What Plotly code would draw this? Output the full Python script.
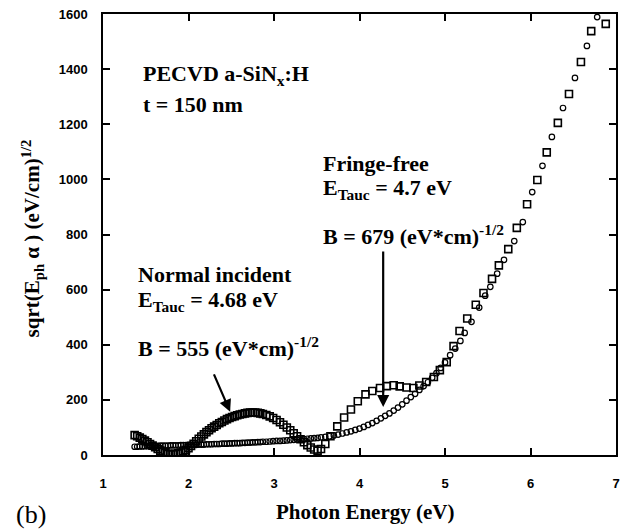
import plotly.graph_objects as go

# Normal incident (open squares)
ni_x = [1.37, 1.40, 1.43, 1.46, 1.49, 1.52, 1.55, 1.58, 1.61, 1.64, 1.67, 1.70, 1.73, 1.76, 1.79, 1.82,
        1.85, 1.88, 1.91, 1.94, 1.97, 2.00, 2.03, 2.06, 2.09, 2.12, 2.15, 2.18, 2.21, 2.24, 2.27, 2.30,
        2.33, 2.36, 2.39, 2.42, 2.45, 2.48, 2.51, 2.54, 2.57, 2.60, 2.63, 2.66, 2.69, 2.72, 2.75, 2.78,
        2.81, 2.84, 2.87, 2.91, 2.95, 2.99, 3.03, 3.07, 3.11, 3.15, 3.19, 3.23, 3.27, 3.31, 3.35, 3.39,
        3.43, 3.47, 3.51, 3.55, 3.60, 3.66, 3.74, 3.82, 3.90, 3.98, 4.07, 4.15, 4.24, 4.32, 4.40, 4.47,
        4.55, 4.63, 4.70, 4.78, 4.87, 4.94, 5.02, 5.10, 5.17, 5.26, 5.36, 5.45, 5.55, 5.63, 5.74, 5.84,
        5.96, 6.08, 6.19, 6.32, 6.45, 6.59, 6.71, 6.88]
ni_y = [72, 68, 63, 58, 52, 46, 40, 34, 28, 22, 16, 11, 7, 4, 3, 3,
        4, 6, 9, 13, 18, 25, 33, 41, 50, 59, 67, 75, 83, 90, 97, 103,
        109, 115, 120, 125, 130, 134, 138, 141, 144, 147, 149, 151, 153, 154, 154, 154,
        153, 151, 149, 145, 140, 134, 127, 119, 110, 100, 90, 79, 68, 57, 46, 36,
        27, 20, 16, 22, 40, 68, 104, 136, 165, 195, 220, 232, 243, 250, 253, 249,
        245, 243, 252, 265, 283, 308, 337, 395, 450, 495, 545, 588, 639, 688, 747, 824,
        910, 998, 1098, 1205, 1310, 1426, 1538, 1564]

# Fringe-free (open circles)
ff_x = [1.37, 1.40, 1.43, 1.46, 1.49, 1.52, 1.55, 1.58, 1.61, 1.64, 1.67, 1.70, 1.73, 1.76, 1.79, 1.82,
        1.85, 1.88, 1.91, 1.94, 1.97, 2.00, 2.03, 2.06, 2.09, 2.12, 2.15, 2.18, 2.21, 2.24, 2.27, 2.30,
        2.33, 2.36, 2.39, 2.42, 2.45, 2.48, 2.51, 2.54, 2.57, 2.60, 2.63, 2.66, 2.69, 2.72, 2.75, 2.78,
        2.81, 2.84, 2.87, 2.91, 2.95, 2.99, 3.03, 3.07, 3.11, 3.15, 3.19, 3.23, 3.27, 3.31, 3.35, 3.39,
        3.43, 3.47, 3.51, 3.55, 3.60, 3.65, 3.70, 3.75, 3.80, 3.85, 3.90, 3.95, 4.00, 4.05, 4.10, 4.15,
        4.20, 4.25, 4.30, 4.35, 4.40, 4.45, 4.50, 4.55, 4.60, 4.65, 4.70, 4.75, 4.80, 4.85, 4.90, 4.95,
        5.00, 5.06, 5.12, 5.18, 5.23, 5.31, 5.40, 5.47, 5.53, 5.61, 5.69, 5.81, 5.91, 6.02, 6.14, 6.25,
        6.38, 6.52, 6.66, 6.78]
ff_y = [30, 30, 31, 31, 32, 32, 32, 33, 33, 33, 34, 34, 34, 34, 35, 35,
        35, 35, 36, 36, 36, 36, 37, 37, 37, 38, 38, 38, 39, 39, 39, 40,
        40, 40, 41, 41, 41, 42, 42, 43, 43, 43, 44, 44, 45, 45, 46, 46,
        47, 47, 48, 48, 49, 50, 51, 51, 52, 53, 54, 55, 56, 57, 58, 59,
        60, 61, 62, 64, 66, 68, 71, 74, 78, 82, 86, 91, 96, 102, 109, 116,
        124, 133, 142, 151, 161, 172, 184, 197, 210, 222, 236, 250, 264, 280, 297, 316,
        336, 362, 386, 414, 443, 483, 535, 578, 610, 658, 708, 776, 845, 954, 1049, 1154,
        1259, 1368, 1484, 1589]

x_ticks = [1, 2, 3, 4, 5, 6, 7]
y_ticks = [0, 200, 400, 600, 800, 1000, 1200, 1400, 1600]

SERIF = "Liberation Serif"
SANS = "Liberation Sans"

fig = go.Figure()
fig.add_trace(go.Scatter(x=ni_x, y=ni_y, mode="markers", name="Normal incident",
                         marker=dict(symbol="square-open", size=7, color="black",
                                     line=dict(width=1.6, color="black"))))
fig.add_trace(go.Scatter(x=ff_x, y=ff_y, mode="markers", name="Fringe-free",
                         marker=dict(symbol="circle-open", size=5.5, color="black",
                                     line=dict(width=1.2, color="black"))))

axis_common = dict(showgrid=False, zeroline=False, showline=True, linecolor="black", linewidth=1.5,
                   mirror="ticks", ticks="inside", ticklen=7, tickwidth=1.5, tickcolor="black",
                   tickfont=dict(family=SANS, size=13, color="black", weight="bold"))

fig.update_xaxes(range=[1, 7], tickvals=x_ticks, ticklabelstandoff=16, **axis_common)
fig.update_yaxes(range=[0, 1600], tickvals=y_ticks, ticklabelstandoff=11, **axis_common)

tf = dict(family=SERIF, size=22, color="black", weight="bold")
texts = [
    ("PECVD a-SiN<sub>x</sub>:H", 1.447, 1378),
    ("t = 150 nm", 1.447, 1270),
    ("Fringe-free", 3.55, 1057),
    ("E<sub>Tauc</sub> = 4.7 eV", 3.55, 964),
    ("B = 679 (eV*cm)<sup>-1/2</sup>", 3.55, 800),
    ("Normal incident", 1.39, 656),
    ("E<sub>Tauc</sub> = 4.68 eV", 1.39, 560),
    ("B = 555 (eV*cm)<sup>-1/2</sup>", 1.39, 392),
]
for t, xx, yy in texts:
    fig.add_annotation(text=t, x=xx, y=yy, xref="x", yref="y", xanchor="left", yanchor="middle",
                       showarrow=False, font=tf)

# arrows
fig.add_annotation(x=2.487, y=157, ax=2.29, ay=298, xref="x", yref="y", axref="x", ayref="y",
                   text="", showarrow=True, arrowhead=2, arrowsize=1.1, arrowwidth=2.2, arrowcolor="black")
fig.add_annotation(x=4.277, y=174, ax=4.277, ay=744, xref="x", yref="y", axref="x", ayref="y",
                   text="", showarrow=True, arrowhead=2, arrowsize=1.1, arrowwidth=2.2, arrowcolor="black")

# axis titles
fig.add_annotation(text="Photon Energy (eV)", xref="paper", yref="paper", x=0.51, y=-0.129,
                   xanchor="center", yanchor="middle", showarrow=False,
                   font=dict(family=SERIF, size=21, color="black", weight="bold"))
fig.add_annotation(text="sqrt(E<sub>ph</sub> α ) (eV/cm)<sup>1/2</sup>", xref="paper", yref="paper",
                   x=(32 - 103) / 517, y=0.49, xanchor="center", yanchor="middle", textangle=-90,
                   showarrow=False, font=dict(family=SERIF, size=21, color="black", weight="bold"))
fig.add_annotation(text="(b)", xref="paper", yref="paper", x=(13 - 103) / 517, y=(455 - 514) / 441,
                   xanchor="left", yanchor="middle", showarrow=False,
                   font=dict(family=SERIF, size=26, color="black"))

fig.update_layout(width=624, height=531, margin=dict(l=103, r=4, t=14, b=76),
                  plot_bgcolor="white", paper_bgcolor="white", showlegend=False)

fig.write_html("out.html")
